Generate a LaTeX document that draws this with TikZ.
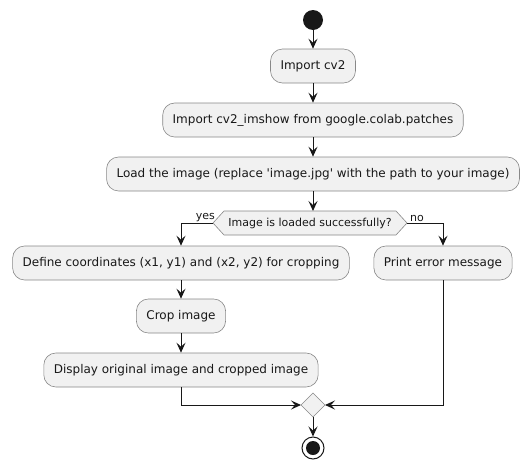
\documentclass[tikz,border=0pt]{standalone}
\usepackage{fontspec}
\setmainfont{DejaVu Sans}
\usetikzlibrary{arrows.meta}
\definecolor{boxfill}{HTML}{F1F1F1}
\definecolor{boxline}{HTML}{888888}
\definecolor{ink}{HTML}{181818}
\begin{document}
\begin{tikzpicture}[x=1pt,y=-1pt,
  act/.style={draw=boxline, fill=boxfill, rounded corners=12pt, minimum height=34pt, inner xsep=10pt, inner ysep=0pt, font=\fontsize{12}{14}\selectfont, text=ink, line width=0.6pt},
  flow/.style={draw=ink, line width=1pt, -{Stealth[length=10pt,width=9pt,inset=4pt]}},
  lbl/.style={font=\fontsize{11}{13}\selectfont, text=ink, inner sep=0pt}]
\useasboundingbox (0,0) rectangle (528,469);
% start
\node[circle, fill=ink, minimum size=20pt, inner sep=0pt] (start) at (313,20) {};
\node[act] (a1) at (313,66) {Import cv2};
\node[act] (a2) at (313,120) {Import cv2\_imshow from google.colab.patches};
\node[act] (a3) at (313,174) {Load the image (replace \textquotesingle image.jpg\textquotesingle\ with the path to your image)};
% decision
\draw[draw=boxline, fill=boxfill, line width=0.6pt] (213,223) -- (224,211) -- (396,211) -- (407,223) -- (396,235) -- (224,235) -- cycle;
\node[lbl] (dec) at (310,223) {Image is loaded successfully?};
\coordinate (decT) at (313,211);
\coordinate (decL) at (213,223);
\coordinate (decR) at (407,223);
\node[lbl, anchor=south east] (yes) at (215,222) {yes};
\node[lbl, anchor=south west] (no) at (410,222) {no};
\node[act] (b1) at (181,263) {Define coordinates (x1, y1) and (x2, y2) for cropping};
\node[act] (b2) at (181,316) {Crop image};
\node[act] (b3) at (181,370) {Display original image and cropped image};
\node[act] (c1) at (443,263) {Print error message};
% merge
\draw[draw=boxline, fill=boxfill, line width=0.6pt] (301,405) -- (313,393) -- (325,405) -- (313,417) -- cycle;
\coordinate (mL) at (301,405);
\coordinate (mR) at (325,405);
\coordinate (mB) at (313,417);
% end
\node[circle, draw=ink, fill=white, line width=1pt, minimum size=22pt, inner sep=0pt] (stop) at (313,448) {};
\node[circle, fill=ink, minimum size=14pt, inner sep=0pt] at (stop) {};
% connectors
\draw[flow] (start) -- (a1);
\draw[flow] (a1) -- (a2);
\draw[flow] (a2) -- (a3);
\draw[flow] (a3.south -| decT) -- (decT);
\draw[flow] (decL) -| (b1.north);
\draw[flow] (decR) -| (c1.north);
\draw[flow] (b1) -- (b2);
\draw[flow] (b2) -- (b3);
\draw[flow] (b3.south) |- (mL);
\draw[flow] (c1.south) |- (mR);
\draw[flow] (mB) -- (stop);
\end{tikzpicture}
\end{document}
